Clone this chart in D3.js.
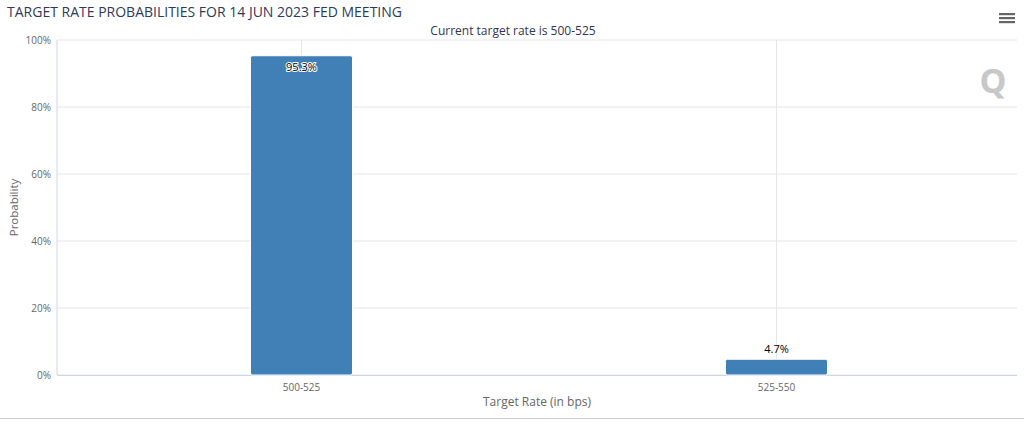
<!DOCTYPE html>
<html><head><meta charset="utf-8">
<script src="https://cdn.jsdelivr.net/npm/d3@7"></script>
<style>body{margin:0;background:#fff;font-family:"Lucida Grande","DejaVu Sans",Arial,sans-serif;}</style>
</head><body>
<svg id="c" width="1024" height="426"></svg>
<script>
const categories = ["500-525", "525-550"];
const values = [95.3, 4.7];
const yTicks = [0, 20, 40, 60, 80, 100];
const title = "TARGET RATE PROBABILITIES FOR 14 JUN 2023 FED MEETING";
const subtitle = "Current target rate is 500-525";

const svg = d3.select("#c");
const m = {l:57, r:1017, t:40, b:375};
const x = d3.scaleBand().domain(categories).range([64, 1014]);
const y = d3.scaleLinear().domain([0,100]).range([m.b, m.t]);
const font = "Open Sans, sans-serif";

svg.append("text").attr("x",7).attr("y",17).attr("font-family",font).attr("font-size",14)
  .attr("fill","#2f3a5a").text(title);
svg.append("text").attr("x",513).attr("y",35).attr("text-anchor","middle").attr("font-family",font)
  .attr("font-size",12).attr("fill","#333355").text(subtitle);

[0,4,8].forEach(o=>svg.append("rect").attr("x",999).attr("y",13+o).attr("width",16).attr("height",2.2).attr("fill","#666"));
svg.append("text").attr("x",993).attr("y",93).attr("text-anchor","middle").attr("font-family",font)
  .attr("font-weight","bold").attr("font-size",34).attr("fill","#c8c8c8").text("Q");

svg.append("g").selectAll("line").data(yTicks).join("line")
  .attr("x1",m.l).attr("x2",m.r).attr("y1",d=>y(d)).attr("y2",d=>y(d)).attr("stroke","#e6e6e6");
svg.append("g").selectAll("line").data(categories).join("line")
  .attr("x1",d=>x(d)+x.bandwidth()/2).attr("x2",d=>x(d)+x.bandwidth()/2)
  .attr("y1",m.t).attr("y2",m.b).attr("stroke","#e6e6e6");
svg.append("line").attr("x1",m.l).attr("x2",m.l).attr("y1",m.t).attr("y2",m.b).attr("stroke","#ccd6eb");
svg.append("line").attr("x1",m.l).attr("x2",m.r).attr("y1",m.b+0.5).attr("y2",m.b+0.5).attr("stroke","#ccd6eb");

svg.append("g").selectAll("text").data(yTicks).join("text")
  .attr("x",m.l-6).attr("y",d=>y(d)+4).attr("text-anchor","end").attr("font-family",font)
  .attr("font-size",10).attr("fill","#666").text(d=>d+"%");
svg.append("text").attr("transform",`translate(18,${(m.t+m.b)/2}) rotate(-90)`).attr("text-anchor","middle")
  .attr("font-family",font).attr("font-size",11.5).attr("fill","#666").text("Probability");

svg.append("g").selectAll("text").data(categories).join("text")
  .attr("x",d=>x(d)+x.bandwidth()/2).attr("y",m.b+16).attr("text-anchor","middle").attr("font-family",font)
  .attr("font-size",10).attr("fill","#666").text(d=>d);
svg.append("text").attr("x",(m.l+m.r)/2).attr("y",406).attr("text-anchor","middle")
  .attr("font-family",font).attr("font-size",12).attr("fill","#666").text("Target Rate (in bps)");

const bw = 102;
const g = svg.append("g");
categories.forEach((c,i)=>{
  const cx = x(c)+x.bandwidth()/2;
  g.append("rect").attr("x",cx-bw/2).attr("y",y(values[i])).attr("width",bw)
    .attr("height",m.b-y(values[i])).attr("rx",2).attr("fill","#4180b6").attr("stroke","#fff").attr("stroke-width",1);
  const inside = values[i] > 50;
  g.append("text").attr("x",cx).attr("y",inside? y(values[i])+15 : y(values[i])-6)
    .attr("text-anchor","middle").attr("font-family",font).attr("font-size",11)
    .attr("fill","#000").attr("stroke", inside?"#fff":"none").attr("stroke-width",inside?2:0)
    .attr("paint-order","stroke").text(values[i].toFixed(1)+"%");
});
svg.append("line").attr("x1",0).attr("x2",1024).attr("y1",418.5).attr("y2",418.5).attr("stroke","#ccc");
</script>
</body></html>
